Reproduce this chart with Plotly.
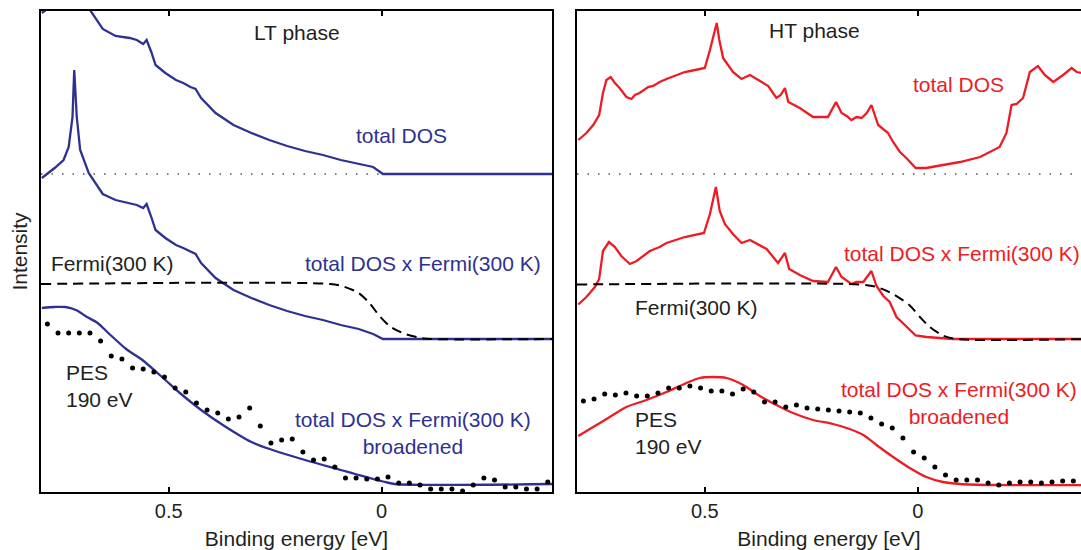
import plotly.graph_objects as go

# ---------------- data (binding energy in eV, intensity in arb. units above each curve's baseline) -------------
LT_DOS_E = [0.798, 0.768, 0.747, 0.735, 0.726, 0.722, 0.716, 0.708, 0.688, 0.667, 0.655, 0.625, 0.592,
            0.575, 0.560, 0.552, 0.541, 0.531, 0.508, 0.483, 0.466, 0.449, 0.437, 0.424, 0.390, 0.348,
            0.306, 0.264, 0.222, 0.180, 0.138, 0.096, 0.054, 0.020, -0.003, -0.400]
LT_DOS = [161, 171, 179, 192, 222, 269, 222, 189, 166, 152, 145, 138, 136,
          134, 130, 134, 122, 109, 101, 94, 91, 87, 85, 76, 61, 49,
          41, 34, 28, 23, 19, 14, 10, 7, 0, 0]
LT_DOSF = [161, 171, 179, 192, 222, 269, 222, 189, 166, 152, 145, 139, 136,
           134, 131, 135, 122, 109, 101, 94, 91, 87, 85, 76, 61, 49,
           41, 34, 28, 23, 19, 14, 10, 5, 0, 0]

LT_FERMI_E = [0.800, 0.121, 0.088, 0.054, 0.029, 0.0035, -0.021, -0.055, -0.089, -0.115, -0.400]
LT_FERMI = [55, 55, 52.3, 46, 36, 22.3, 12.3, 5, 1.3, 0, 0]

LT_BRD_E = [0.798, 0.768, 0.743, 0.718, 0.692, 0.667, 0.642, 0.600, 0.562, 0.508, 0.474, 0.424,
            0.373, 0.306, 0.256, 0.180, 0.096, 0.054, -0.003, -0.030, -0.400]
LT_BRD = [176, 177, 177, 174, 167, 161, 151, 135, 124, 104, 91, 74,
          59, 42, 34, 24, 14, 9, 2.5, 0, 0]

LT_PES_E = [0.785, 0.760, 0.735, 0.710, 0.685, 0.660, 0.635, 0.610, 0.585, 0.560, 0.535, 0.510,
            0.485, 0.460, 0.435, 0.410, 0.385, 0.360, 0.335, 0.310, 0.285, 0.260, 0.235, 0.210,
            0.185, 0.160, 0.135, 0.110, 0.085, 0.060, 0.035, 0.010, -0.015, -0.040, -0.065, -0.090,
            -0.115, -0.140, -0.165, -0.190, -0.215, -0.240, -0.265, -0.290, -0.315, -0.340, -0.365, -0.390]
LT_PES = [160, 151, 151, 151, 151, 143, 128, 125, 116, 115, 112, 107,
          96, 92, 81, 74, 71, 65, 67, 76, 58, 41, 44, 45,
          32, 24, 25, 17, 6, 6, 5, 5, 7, 1, 1, -1,
          -5, -5, -5, -7, -1, 6, 4, -3, -3, -5, -5, 2]

HT_DOS_E = [0.797, 0.778, 0.762, 0.748, 0.739, 0.731, 0.721, 0.711, 0.700, 0.684, 0.672, 0.664, 0.653,
            0.633, 0.621, 0.606, 0.590, 0.570, 0.547, 0.523, 0.500, 0.488, 0.479, 0.472, 0.466, 0.457,
            0.434, 0.414, 0.394, 0.371, 0.351, 0.332, 0.322, 0.312, 0.304, 0.277, 0.246, 0.211, 0.192,
            0.179, 0.167, 0.156, 0.144, 0.132, 0.120, 0.109, 0.093, 0.070, 0.058, 0.042, 0.027, 0.005,
            -0.020, -0.059, -0.099, -0.146, -0.192, -0.208, -0.220, -0.232, -0.247, -0.263, -0.282,
            -0.298, -0.318, -0.341, -0.361, -0.373, -0.383]
HT_DOS = [34, 41, 49, 59, 81, 94, 97, 91, 86, 77, 75, 79, 81,
          87, 88, 92, 95, 98, 102, 104, 106, 124, 141, 151, 134, 116,
          102, 95, 99, 93, 88, 76, 79, 86, 72, 66, 57, 57, 72,
          61, 58, 54, 57, 56, 61, 69, 49, 41, 32, 22, 16, 6,
          6, 9, 12, 17, 27, 41, 69, 70, 76, 102, 108,
          99, 92, 99, 106, 102, 101]

HT_DOSF_E = [0.797, 0.778, 0.758, 0.748, 0.739, 0.725, 0.711, 0.696, 0.676, 0.660, 0.629, 0.606, 0.590,
             0.547, 0.502, 0.488, 0.474, 0.465, 0.453, 0.434, 0.414, 0.394, 0.355, 0.328, 0.312, 0.302,
             0.277, 0.246, 0.211, 0.192, 0.179, 0.156, 0.144, 0.128, 0.109, 0.097, 0.081, 0.066, 0.050,
             0.027, 0.005, -0.020, -0.083, -0.400]
HT_DOSF = [34.5, 42, 52, 60, 88, 97, 92, 83, 75, 78, 88, 92, 96,
           102, 106, 125, 152, 128, 115, 105, 96, 99, 90, 76, 86, 70,
           64, 58, 57, 72, 62, 55, 57, 57, 68, 53, 43, 37, 22,
           12, 3.5, 2, 0, 0]

HT_FERMI_E = [0.800, 0.136, 0.097, 0.058, 0.019, -0.005, -0.028, -0.059, -0.091, -0.400]
HT_FERMI = [54.5, 54.5, 52, 45, 33.5, 22, 12, 3.5, 0, 0]

HT_BRD_E = [0.797, 0.762, 0.723, 0.684, 0.637, 0.590, 0.543, 0.512, 0.481, 0.449, 0.410, 0.371, 0.332,
            0.293, 0.246, 0.199, 0.160, 0.128, 0.097, 0.058, 0.019, -0.020, -0.059, -0.099, -0.177, -0.400]
HT_BRD = [49, 58, 68, 78, 85, 93, 102, 107, 108, 107, 100, 89, 80,
          72, 65, 61, 56, 50, 40, 28, 17, 8, 3, 1, 0, 0]

HT_PES_E = [0.785, 0.760, 0.735, 0.710, 0.685, 0.660, 0.635, 0.610, 0.585, 0.560, 0.535, 0.510,
            0.485, 0.460, 0.435, 0.410, 0.385, 0.360, 0.335, 0.310, 0.285, 0.260, 0.235, 0.210,
            0.185, 0.160, 0.135, 0.110, 0.085, 0.060, 0.035, 0.010, -0.015, -0.040, -0.065, -0.090,
            -0.115, -0.140, -0.165, -0.190, -0.215, -0.240, -0.265, -0.290, -0.315, -0.340, -0.365]
HT_PES = [84, 86, 91, 90, 92, 89, 89, 92, 97, 97, 99, 97,
          94, 94, 91, 96, 93, 83, 83, 78, 80, 77, 76, 75,
          74, 73, 72, 67, 61, 57, 47, 33, 27, 18, 10, 5,
          5, 5, 2, 0, 2, 3, 3, 2, 3, 4, 4]

TICK_VALS = [0.5, 0]
TICK_TEXT = ["0.5", "0"]

# ---------------- layout constants ----------------
BASE_TOP = 318      # baseline of "total DOS" curves
BASE_MID = 153      # baseline of "DOS x Fermi" curves
BASE_BOT_LT = 8
BASE_BOT_HT = 7

BLUE = "#2E3192"
RED = "#ED1C24"
INK = "#231F20"
FONT = "Liberation Sans, Arial, sans-serif"
LW = 2.3

fig = go.Figure()


def add_line(x, y, base, color, xa, ya, width=LW, dash=None, shape="linear"):
    fig.add_trace(go.Scatter(
        x=x, y=[v + base for v in y], mode="lines", xaxis=xa, yaxis=ya,
        line=dict(color=color, width=width, dash=dash, shape=shape, smoothing=0.8),
        hoverinfo="skip", showlegend=False))


def add_dots(x, y, base, xa, ya):
    fig.add_trace(go.Scatter(
        x=x, y=[v + base for v in y], mode="markers", xaxis=xa, yaxis=ya,
        marker=dict(color="black", size=5), hoverinfo="skip", showlegend=False, cliponaxis=False))


for xa, ya, xr in (("x", "y", [0.8, -0.4]), ("x2", "y2", [0.8, -0.4])):
    fig.add_trace(go.Scatter(x=xr, y=[BASE_TOP, BASE_TOP], mode="lines", xaxis=xa, yaxis=ya,
                             line=dict(color="#555555", width=1.5, dash="1.5px,9px"),
                             hoverinfo="skip", showlegend=False))

# LT panel
add_line(LT_DOS_E, LT_DOS, BASE_TOP, BLUE, "x", "y")
add_line(LT_DOS_E, LT_DOSF, BASE_MID, BLUE, "x", "y")
add_line(LT_FERMI_E, LT_FERMI, BASE_MID, "black", "x", "y", width=2, dash="10px,6px", shape="spline")
add_line(LT_BRD_E, LT_BRD, BASE_BOT_LT, BLUE, "x", "y", shape="spline")
add_dots(LT_PES_E, LT_PES, BASE_BOT_LT, "x", "y")

# HT panel
add_line(HT_DOS_E, HT_DOS, BASE_TOP, RED, "x2", "y2")
add_line(HT_DOSF_E, HT_DOSF, BASE_MID, RED, "x2", "y2")
add_line(HT_FERMI_E, HT_FERMI, BASE_MID, "black", "x2", "y2", width=2, dash="10px,6px", shape="spline")
add_line(HT_BRD_E, HT_BRD, BASE_BOT_HT, RED, "x2", "y2", shape="spline")
add_dots(HT_PES_E, HT_PES, BASE_BOT_HT, "x2", "y2")

W, H = 1081, 550
ML, MR, MT, MB = 41, 0, 11, 58
PW = W - ML - MR

xcommon = dict(tickvals=TICK_VALS, ticktext=TICK_TEXT, ticks="inside", ticklen=5, tickwidth=2,
               tickcolor="black", showline=True, linewidth=2, linecolor="black", mirror="ticks",
               showgrid=False, zeroline=False, tickfont=dict(family=FONT, size=20, color=INK),
               title=dict(text="Binding energy [eV]", font=dict(family=FONT, size=21, color=INK),
                          standoff=11))
ycommon = dict(range=[0, 481], showticklabels=False, ticks="", showgrid=False, zeroline=False,
               showline=True, linewidth=2, linecolor="black")

fig.update_layout(
    width=W, height=H, margin=dict(l=ML, r=MR, t=MT, b=MB),
    paper_bgcolor="white", plot_bgcolor="white",
    xaxis=dict(domain=[0, 511 / PW], range=[0.8, -0.4], anchor="y", **xcommon),
    xaxis2=dict(domain=[536 / PW, 1], range=[0.8, -0.383], anchor="y2", **xcommon),
    yaxis=dict(domain=[0, 1], anchor="x", mirror=True,
               title=dict(text="Intensity", font=dict(family=FONT, size=21, color=INK), standoff=6),
               **ycommon),
    yaxis2=dict(domain=[0, 1], anchor="x2", mirror=False, **ycommon),
    showlegend=False,
)


def note(text, x, y, color, xa, ya, xanchor="center"):
    fig.add_annotation(text=text, x=x, y=y, xref=xa, yref=ya, showarrow=False,
                       xanchor=xanchor, yanchor="middle", align=xanchor if xanchor != "center" else "center",
                       font=dict(family=FONT, size=21, color=color))


note("LT phase", 0.200, 460, INK, "x", "y")
note("total DOS", -0.047, 357, BLUE, "x", "y")
note("Fermi(300 K)", 0.782, 229, INK, "x", "y", xanchor="left")
note("total DOS x Fermi(300 K)", -0.096, 229, BLUE, "x", "y")
note("PES<br>190 eV", 0.746, 106, INK, "x", "y", xanchor="left")
note("total DOS x Fermi(300 K)<br>broadened", -0.074, 59, BLUE, "x", "y")

note("HT phase", 0.242, 462, INK, "x2", "y2")
note("total DOS", -0.095, 408, RED, "x2", "y2")
note("total DOS x Fermi(300 K)", -0.104, 239, RED, "x2", "y2")
note("Fermi(300 K)", 0.669, 185, INK, "x2", "y2", xanchor="left")
note("PES<br>190 eV", 0.669, 59, INK, "x2", "y2", xanchor="left")
note("total DOS x Fermi(300 K)<br>broadened", -0.096, 89, RED, "x2", "y2")

fig.write_html("out.html")
